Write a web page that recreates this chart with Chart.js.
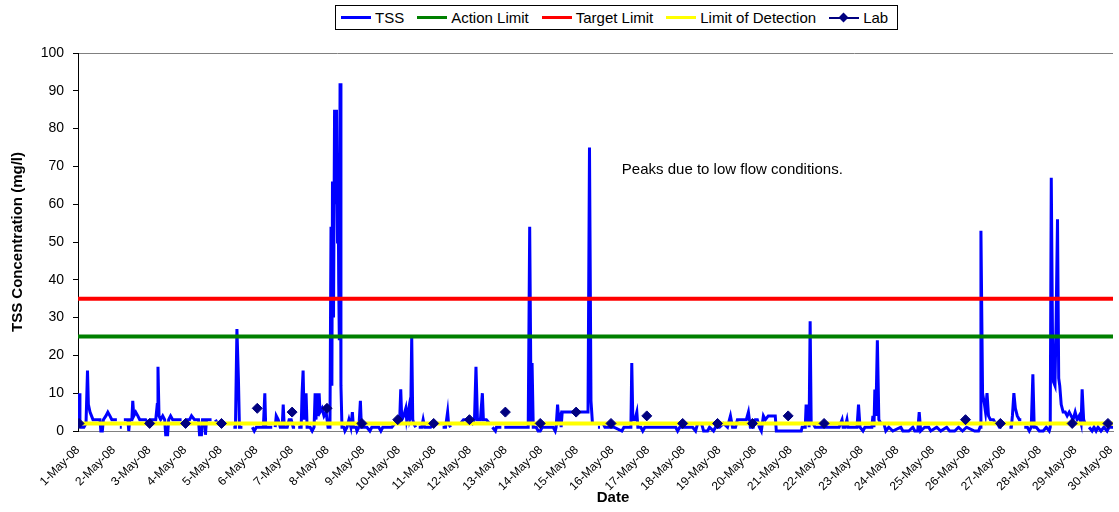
<!DOCTYPE html>
<html>
<head>
<meta charset="utf-8">
<style>
  body { margin: 0; background: #fff; }
  #wrap { position: relative; width: 1119px; height: 512px; font-family: 'Liberation Sans', Arial, sans-serif; }
  #legend { position: absolute; left: 335px; top: 5px; height: 25px; border: 1px solid #000; background: #fff;
            display: flex; align-items: center; padding: 0 5px; font-size: 15px; color: #000; box-sizing: border-box; }
  .item { display: flex; align-items: center; margin-right: 13px; }
  .item:last-child { margin-right: 4px; }
  .sw { width: 30px; height: 3px; margin-right: 4px; position: relative; }
  .dia { position: absolute; left: 11px; top: -3px; width: 7px; height: 7px; background: #000080; transform: rotate(45deg); }
</style>
</head>
<body>
<div id="wrap">
  <canvas id="tssChart" width="1119" height="512"></canvas>
  <div id="legend"></div>
</div>
<script src="https://cdn.jsdelivr.net/npm/chart.js"></script>
<script>
// TSS probe readings: [hours since 1-May-08 00:00, mg/l], null = gap in record
const tss = [
  [0,2],[0.7,10],[1.3,2],[2.0,1],[4.0,1],[5.4,2],[6.4,16],[7.0,7],[8.1,5],[9.1,4],[10.1,3],[12.8,3],[14.8,3],[15.4,0],[16.4,0],[17.1,3],[18.8,4],[20.1,5],[21.5,4],[22.8,3],[26.2,3],[26.9,null],
  [28.2,1],[29.5,1],[30.2,null],[30.9,3],[33.6,3],[34.2,0],[34.9,3],[36.3,3],[36.9,8],[37.6,4],[38.9,5],[40.3,4],[41.6,3],[45.6,3],[47.0,2],[49.0,3],[52.4,3],[53.4,7],[53.9,17],[54.6,4],[55.7,3],[57.1,4],[58.4,3],[59.1,-1],[60.4,-1],[61.1,3],[62.4,4],[63.8,3],[67.1,3],[69.8,3],[71.2,null],
  [72.5,3],[75.2,3],[76.5,4],[78.5,3],[81.2,3],[81.9,-1],[83.2,-1],[83.9,3],[85.3,3],[85.9,-1],[86.6,3],[90.0,3],[90.6,null],
  [92.6,3],[94.0,2],[95.3,2],[96.0,null],
  [104.7,1],[106.1,1],[107.1,27],[108.1,14],[108.8,1],[110.8,1],[111.4,null],
  [117.5,1],[118.8,0],[120.2,1],[123.5,1],[124.9,1],[125.9,10],[126.5,1],[129.6,1],[130.9,1],[131.6,null],
  [132.9,1],[133.6,4],[134.9,3],[136.3,1],[137.6,1],[138.3,7],[139.0,1],[141.0,1],[142.3,3],[143.7,3],[145.0,1],[146.3,1],[147.0,null],
  [148.4,1],[150.4,1],[151.0,10],[151.7,16],[152.4,3],[153.7,10],[154.4,1],[156.4,1],[157.8,0],[159.1,1],[159.8,10],[160.4,3],[161.1,10],[161.8,4],[162.5,10],[163.1,5],[164.5,6],[165.8,4],[167.2,5],[168.5,1],[169.8,1],
  [170.5,54],[171.1,12],[171.5,66],[172.2,30],[172.9,85],[173.5,60],[174.2,85],[174.9,50],[175.2,73],[175.7,39],[176.1,24],[176.6,92],[177.2,12],[177.9,1],
  [179.2,1],[179.9,0],[181.3,1],[182.6,3],[183.9,1],[184.9,5],[185.6,1],[187.3,1],[188.0,0],[189.3,1],[190.3,8],[191.0,1],[192.7,1],
  [194.7,1],[196.7,0],[198.0,1],[202.7,1],[204.1,0],[205.4,1],[209.4,1],[211.5,1],[213.5,2],[215.5,3],[216.8,3],[217.5,11],[218.2,3],[219.5,4],[220.9,6],[221.5,3],[222.9,6],[223.5,3],[224.2,4],[224.9,25],[225.6,3],[226.2,2],[227.6,1],[228.2,null],
  [229.6,1],[231.6,1],[232.6,3],[233.6,1],[237.6,1],[239.0,2],[240.3,1],[241.0,null],
  [245.7,1],[247.7,1],[249.1,5],[249.7,2],[251.1,1],[251.7,null],
  [255.1,0],[255.8,null],
  [257.8,2],[259.8,3],[263.2,3],[265.8,2],[267.2,3],[268.2,17],[269.2,3],[271.2,3],[272.5,10],[273.2,3],[275.2,3],[277.3,2],[277.9,null],
  [279.3,1],[281.3,0],[282.0,1],[285.3,1],[286.0,null],
  [287.3,1],[293.4,1],[300.1,1],[303.4,1],[304.4,54],[305.4,2],[306.0,18],[306.8,1],[308.8,1],[310.1,0],[311.5,0],[312.8,1],[316.9,1],[320.2,1],[321.6,0],[322.2,1],[323.2,7],[323.9,3],[324.9,4],[325.6,1],[326.3,5],[333.6,5],[341.0,5],[343.7,5],[344.7,75],[345.7,8],[346.7,2],[347.7,2],[348.4,null],
  [350.4,1],[351.8,1],[352.4,null],
  [353.8,2],[355.1,1],[361.2,1],[366.5,0],[367.9,1],[372.6,1],[373.2,18],[373.9,3],[375.3,3],[376.6,5],[377.3,1],[379.3,1],[380.6,0],[382.0,1],[390.7,1],[398.8,1],[402.8,1],[404.1,0],[405.5,1],[414.2,1],[416.2,0],[417.6,2],[420.2,2],[421.6,0],[424.3,0],[425.6,1],[428.3,0],[429.6,1],[432.3,1],[435.0,2],[437.7,1],[439.7,4],[441.1,1],[443.1,1],[444.4,3],[450.4,3],[451.8,5],[453.1,1],[455.1,1],[456.5,3],[457.8,3],[459.2,1],[460.5,0],[461.9,4],[463.2,3],[465.2,4],[469.9,4],[470.6,0],[487.4,0],[488.0,1],
  [490.1,1],[490.7,7],[491.4,2],[492.1,7],[492.7,1],[493.4,29],[494.1,2],[495.4,2],[496.8,1],[504.8,1],[512.9,1],[514.9,3],[515.6,1],[516.9,1],[518.2,3],[518.9,1],[525.0,1],[526.0,7],[527.0,1],[529.0,0],[530.3,1],[535.0,1],[535.7,4],[536.4,1],[537.0,11],[537.7,4],[538.7,24],[539.7,3],[541.1,2],[543.1,2],[544.4,0],
  [546.4,1],[549.1,0],[554.5,1],[555.9,0],[559.9,0],[562.6,1],[563.9,0],[565.9,0],[566.9,5],[567.9,0],[570.6,1],[573.3,1],[574.7,0],[578.7,1],[581.4,0],[585.4,1],[587.4,0],[590.8,0],[593.4,1],[596.1,0],[598.8,1],[604.2,0],[606.9,0],
  [607.9,1],[608.5,53],[609.6,10],[610.9,7],[611.6,5],[612.6,10],[613.6,4],[614.9,3],[616.9,3],[618.3,2],[619.6,2],[621.0,1],[622.3,1],[623.6,null],
  [625.0,0],[625.7,null],
  [627.7,1],[629.0,1],[629.7,4],[630.7,10],[631.7,6],[633.0,4],[634.4,3],[635.7,3],[636.4,null],
  [637.7,1],[639.8,1],[641.1,0],[642.4,1],[643.5,15],[644.4,1],[645.8,1],[647.8,0],[650.5,0],[652.5,1],[654.5,0],[655.2,1],
  [655.9,67],[656.7,26],[657.4,13],[658.4,12],[659.2,30],[660.1,56],[660.9,14],[661.6,12],[662.6,7],[663.9,5],[665.3,5],[666.6,4],[668.0,5],[669.3,4],[670.6,3],[672.0,5],[673.3,3],[674.7,4],[676.0,2],[676.7,11],[677.7,3],[678.7,2],[680.0,2],[680.7,null],
  [681.4,1],[683.4,0],[684.7,1],[686.1,0],[687.4,1],[689.4,0],[691.4,1],[693.5,0],[694.8,1],[697.5,1]
];

// laboratory samples
const labHours = [0.7, 48.3, 72.5, 96.7, 120.8, 144.3, 167.8, 191.3, 215.5, 239.7, 263.8, 288.0, 311.5, 335.7, 359.2, 383.3, 407.5, 431.0, 454.5, 478.6, 502.8, 598.1, 621.6, 670.0, 694.1];
const labValues = [2, 2, 2, 2, 6, 5, 6, 2, 3, 2, 3, 5, 2, 5, 2, 4, 2, 2, 2, 4, 2, 3, 2, 2, 2];

// horizontal limits
const limitNames = ['Action Limit', 'Target Limit', 'Limit of Detection'];
const limitValues = [25, 35, 2];
const limitColors = ['#008000', '#ff0000', '#ffff00'];

const xEnd = 697.5;           // last reading, hours
const yTicks = [0, 100, 10];  // min, max, step
const noteText = 'Peaks due to low flow conditions.';
const noteAt = [366.5, 69];   // hours, mg/l
const xTitle = 'Date';

const FONT = "'Liberation Sans', Arial, sans-serif";

// html legend, Excel style
const legend = document.getElementById('legend');
const legendItems = [['TSS', '#0000ff']].concat(limitNames.map((n, i) => [n, limitColors[i]])).concat([['Lab', '#000080']]);
legendItems.forEach(([name, col]) => {
  const it = document.createElement('div');
  it.className = 'item';
  const sw = document.createElement('span');
  sw.className = 'sw';
  sw.style.background = col;
  if (name === 'Lab') {
    sw.style.height = '2px';
    const d = document.createElement('span');
    d.className = 'dia';
    sw.appendChild(d);
  }
  it.appendChild(sw);
  it.appendChild(document.createTextNode(name));
  legend.appendChild(it);
});

// annotation + axis title sitting right of centre, as in the original
const textPlugin = {
  id: 'texts',
  afterDraw(chart) {
    const { ctx, scales: { x, y } } = chart;
    ctx.save();
    ctx.fillStyle = '#000';
    ctx.textBaseline = 'middle';
    ctx.font = '15px ' + FONT;
    ctx.fillText(noteText, x.getPixelForValue(noteAt[0]), y.getPixelForValue(noteAt[1]));
    ctx.font = 'bold 15px ' + FONT;
    ctx.textAlign = 'center';
    ctx.fillText(xTitle, 613, 498);
    ctx.restore();
  }
};

const limitSets = limitNames.map((n, i) => ({
  label: n,
  data: [{ x: 0, y: limitValues[i] }, { x: xEnd, y: limitValues[i] }],
  borderColor: limitColors[i],
  borderWidth: 4,
  pointRadius: 0,
  order: 2 + i
}));

new Chart(document.getElementById('tssChart').getContext('2d'), {
  type: 'line',
  data: {
    datasets: [
      {
        label: 'Lab',
        data: labHours.map((h, i) => ({ x: h, y: labValues[i] })),
        showLine: false,
        pointStyle: 'rectRot',
        pointRadius: 5,
        backgroundColor: '#000080',
        borderColor: '#000080',
        order: 0
      },
      ...limitSets,
      {
        label: 'TSS',
        data: tss.map(p => ({ x: p[0], y: p[1] })),
        borderColor: '#0000ff',
        borderWidth: 3,
        pointRadius: 0,
        spanGaps: false,
        clip: { left: 0, top: 0, right: 0, bottom: 6 },
        order: 10
      }
    ]
  },
  options: {
    responsive: false,
    animation: false,
    devicePixelRatio: 1,
    layout: { padding: { top: 53, right: 2, left: 0, bottom: 0 } },
    elements: { line: { tension: 0 } },
    plugins: { legend: { display: false }, tooltip: { enabled: false } },
    scales: {
      x: {
        type: 'linear',
        min: 0,
        max: xEnd,
        afterFit: s => { s.height = 81; s.paddingLeft = 0; s.paddingRight = 0; },
        grid: { display: false },
        border: { color: '#808080', width: 1 },
        ticks: {
          stepSize: 24,
          includeBounds: false,
          autoSkip: false,
          minRotation: 45,
          maxRotation: 45,
          padding: 4,
          color: '#000',
          font: { family: FONT, size: 12 },
          callback: v => (v / 24 + 1) + '-May-08'
        }
      },
      y: {
        min: yTicks[0],
        max: yTicks[1],
        afterFit: s => { s.width = 78; s.paddingTop = 0; s.paddingBottom = 0; },
        grid: {
          color: c => (c.tick && c.tick.value === yTicks[1] ? '#808080' : 'rgba(0,0,0,0)'),
          tickColor: '#000',
          tickLength: 5
        },
        border: { color: '#000', width: 1 },
        ticks: { stepSize: yTicks[2], padding: 9, color: '#000', font: { family: FONT, size: 14 } },
        title: { display: true, text: 'TSS Concentration (mg/l)', color: '#000', font: { family: FONT, size: 15, weight: 'bold' }, padding: { top: 9, bottom: 0 } }
      }
    }
  },
  plugins: [textPlugin]
});
</script>
</body>
</html>
